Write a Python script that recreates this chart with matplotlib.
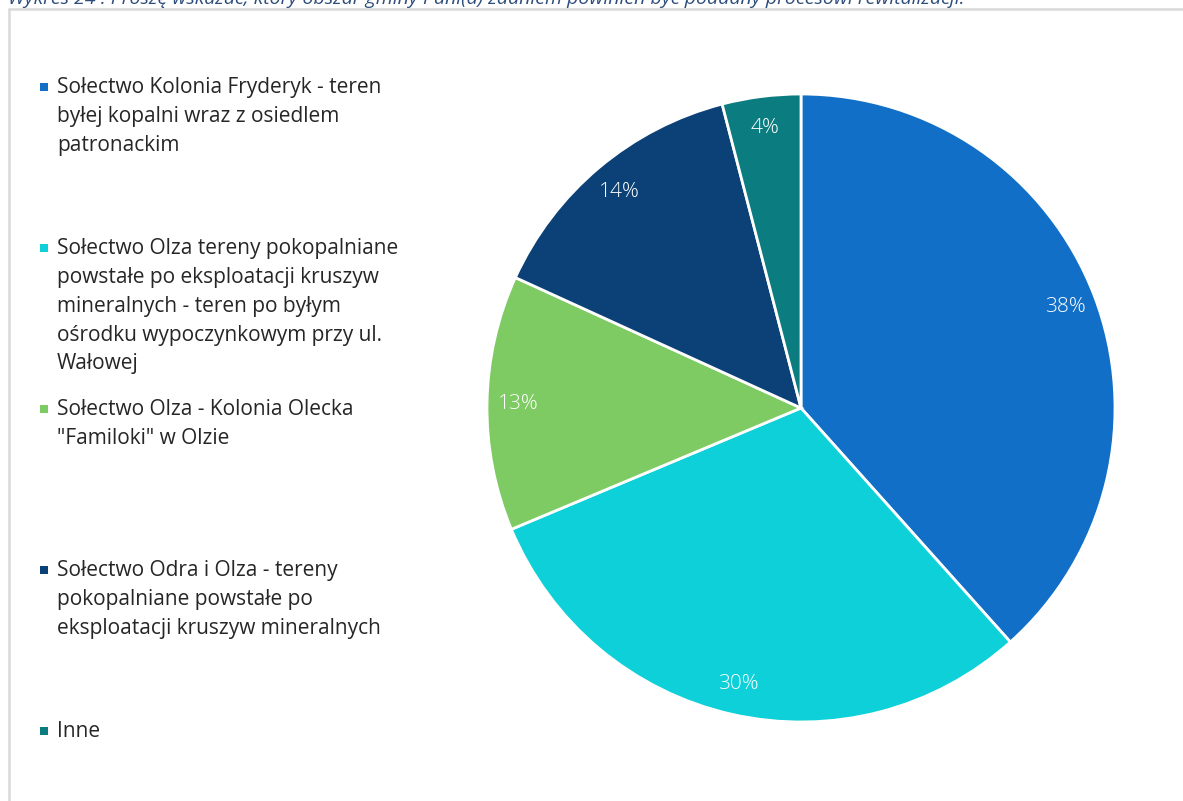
import matplotlib.pyplot as plt
from matplotlib.patches import Rectangle

W, H = 1183, 801

title = ('Wykres 24 : Proszę wskazać, który obszar gminy Pani(a) zdaniem '
         'powinien być poddany procesowi rewitalizacji.')

labels = [
    'Sołectwo Kolonia Fryderyk - teren\nbyłej kopalni wraz z osiedlem\npatronackim',
    'Sołectwo Olza tereny pokopalniane\npowstałe po eksploatacji kruszyw\n'
    'mineralnych - teren po byłym\nośrodku wypoczynkowym przy ul.\nWałowej',
    'Sołectwo Olza - Kolonia Olecka\n"Familoki" w Olzie',
    'Sołectwo Odra i Olza - tereny\npokopalniane powstałe po\neksploatacji kruszyw mineralnych',
    'Inne',
]
values = [38, 30, 13, 14, 4]
colors = ['#116FC7', '#0DD0D9', '#7DCB62', '#0B4176', '#0B7C7F']

plt.rcParams['font.family'] = ['Open Sans', 'DejaVu Sans']

fig = plt.figure(figsize=(W / 100, H / 100), dpi=100)

# frame around the chart area
fig.patches.append(Rectangle((9 / W, -0.1), 1.2, 1 - 9 / H + 0.1, transform=fig.transFigure,
                             fill=False, edgecolor='#D9D9D9', linewidth=1.8))

# caption, cut off at the top like in the source
fig.text(8 / W, 1 - 4 / H, title, fontsize=14, style='italic', color='#2E4D7B',
         ha='left', va='baseline')

cx, cy, r = 801, 408, 314
ax = fig.add_axes([(cx - r) / W, (H - cy - r) / H, 2 * r / W, 2 * r / H])
wedges, texts, autotexts = ax.pie(values, colors=colors, startangle=90, counterclock=False,
                                  radius=1, autopct='%.0f%%', pctdistance=0.9,
                                  wedgeprops=dict(edgecolor='white', linewidth=2))
for t in autotexts:
    t.set_color('white')
    t.set_fontsize(15)
    t.set_fontweight('light')
ax.set_xlim(-1, 1)
ax.set_ylim(-1, 1)
ax.set_aspect('equal')

# legend, items spaced evenly from the top
for i, (lab, col) in enumerate(zip(labels, colors)):
    y = 87 + i * 161
    fig.patches.append(Rectangle((40 / W, 1 - (y + 4) / H), 8 / W, 8 / H,
                                 transform=fig.transFigure, facecolor=col, edgecolor='none'))
    fig.text(57 / W, 1 - (y - 10) / H, lab, fontsize=15, color='#262626',
             ha='left', va='top', linespacing=1.49)

plt.savefig('out.png', dpi=100)
